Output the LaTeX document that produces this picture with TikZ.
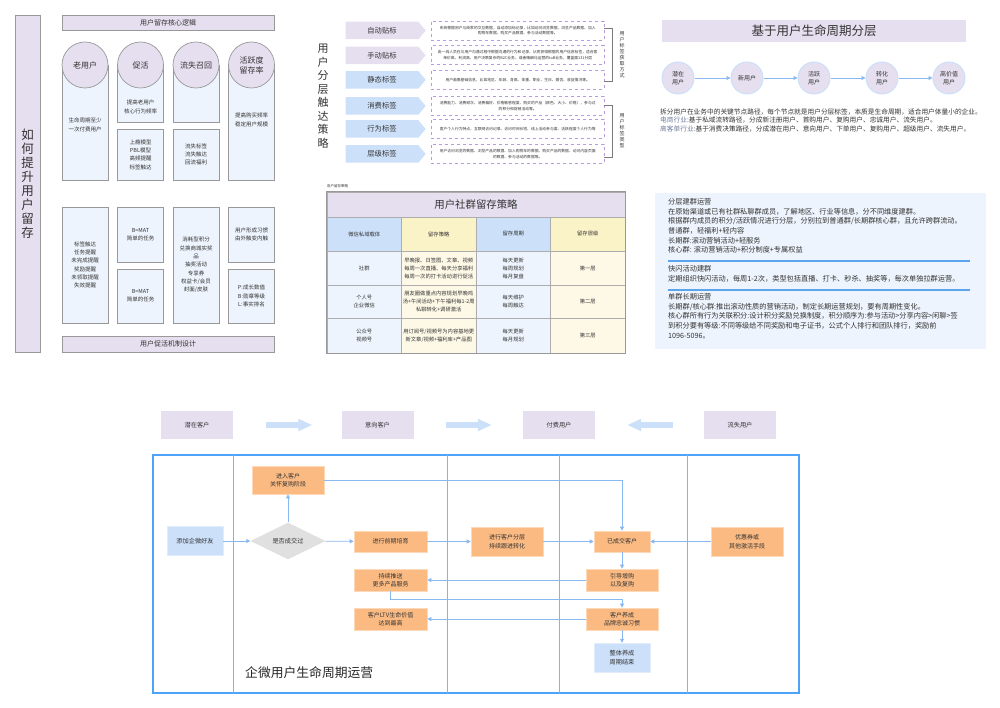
\documentclass[tikz,border=0pt]{standalone}
\usepackage{fontspec}
\setmainfont{Noto Sans CJK SC}
\usetikzlibrary{positioning,shapes.geometric,shapes.symbols,arrows.meta}

\definecolor{lilac}{HTML}{E5DFEF}
\definecolor{paleblue}{HTML}{EEF4FD}
\definecolor{skyblue}{HTML}{CCE0FA}
\definecolor{peach}{HTML}{FBBA82}
\definecolor{cream}{HTML}{FEF9E7}
\definecolor{butter}{HTML}{FBF3C8}
\definecolor{rim}{HTML}{999999}
\definecolor{flow}{HTML}{8AB8F2}
\definecolor{lanecol}{HTML}{7DB5F3}
\definecolor{framecol}{HTML}{4DA3F7}
\definecolor{dashcol}{HTML}{B79BDD}
\definecolor{ink}{HTML}{333333}
\definecolor{sepcol}{HTML}{5AA5EE}
\definecolor{prefix}{HTML}{6F7C9C}

\newcommand\fsize[2]{\fontsize{#1}{#2}\selectfont}

\tikzset{
  every node/.style={text=ink, inner sep=0pt, align=center},
  lilacbar/.style={draw=rim, fill=lilac, line width=0.7pt},
  column/.style={draw=rim, fill=paleblue, line width=0.7pt, minimum width=46pt, font=\fsize{5.5}{8.3}},
  topic/.style={circle, draw=rim, fill=lilac, line width=0.7pt, minimum size=46pt, font=\fsize{8}{10}},
  tagarrow/.style={signal, signal to=east, signal pointer angle=100, minimum width=80pt, minimum height=17.5pt, font=\fsize{7.3}{9}},
  tagnote/.style={draw=dashcol, dashed, line width=0.6pt, minimum width=173pt, minimum height=19pt, font=\fsize{3.8}{5.6}},
  cell/.style={draw=rim!80, line width=0.5pt, minimum width=74.5pt, font=\fsize{5.3}{8}},
  stage/.style={circle, draw=skyblue, fill=lilac, line width=1pt, minimum size=32pt, font=\fsize{6}{8}},
  phase/.style={fill=lilac, minimum width=72pt, minimum height=28pt, font=\fsize{6.2}{8}},
  taskbox/.style={draw=peach!55!white, fill=peach, line width=0.6pt, minimum width=73pt, minimum height=22pt, font=\fsize{6}{8.5}},
  startbox/.style={draw=skyblue!60!white, fill=skyblue, minimum width=56pt, minimum height=29pt, font=\fsize{6.2}{8.5}},
  decision/.style={diamond, fill=black!12, minimum width=75pt, minimum height=30pt, font=\fsize{6.2}{8}},
  link/.style={draw=flow, line width=0.8pt, -{Triangle[length=4pt,width=4pt]}},
  bigarrow/.style={draw=skyblue, line width=6.7pt, -{Triangle[length=14pt,width=11.5pt]}},
}

\begin{document}
\begin{tikzpicture}[x=1pt,y=-1pt]
\useasboundingbox (0,0) rectangle (1000,708);

% left panel
\node[lilacbar, minimum width=25pt, minimum height=337pt, font=\fsize{12.5}{14}] (howto) at (27.5,183.5) {如\\何\\提\\升\\用\\户\\留\\存};
\node[lilacbar, minimum width=212pt, minimum height=15pt, font=\fsize{7}{8}] (logic) at (168,22.5) {用户留存核心逻辑};
\node[column, minimum height=115pt, anchor=north] (oldcol) at (85,65) {};
\node[column, minimum height=57pt, anchor=north] (activecol) at (140.5,65) {};
\node[column, minimum height=57pt, anchor=north] (churncol) at (196,65) {};
\node[column, minimum height=115pt, anchor=north] (ratecol) at (251.5,65) {};
\node[topic] (old) at (85,65) {老用户};
\node[topic] (active) at (140.5,65) {促活};
\node[topic] (churn) at (196,65) {流失召回};
\node[topic] (rate) at (251.5,65) {活跃度\\留存率};
\node[font=\fsize{5.5}{8.3}] (oldtext) at (85,125) {生命周期至少\\一次付费用户};
\node[font=\fsize{5.5}{8.3}] (activetext) at (140.5,107) {提高老用户\\核心行为频率};
\node[font=\fsize{5.5}{8.3}] (ratetext) at (251.5,120) {提高购买频率\\稳定用户规模};
\node[column, minimum height=51pt] (hook) at (140.5,154.5) {上瘾模型\\PBL模型\\高频提醒\\标签触达};
\node[column, minimum height=51pt] (recall) at (196,154.5) {流失标签\\流失触达\\回流福利};

\node[column, minimum height=116pt] (remind) at (85,265) {标签触达\\任务提醒\\未完成提醒\\奖励提醒\\未领取提醒\\失效提醒};
\node[column, minimum height=55pt] (taskA) at (140.5,234.5) {B=MAT\\简单的任务};
\node[column, minimum height=54pt] (taskB) at (140.5,296) {B=MAT\\简单的任务};
\node[column, minimum height=116pt] (points) at (196,265) {消耗型积分\\兑换商城实奖\\品\\抽奖活动\\专享券\\权益卡/会员\\封面/皮肤};
\node[column, minimum height=55pt] (habitual) at (251.5,234.5) {用户形成习惯\\由外触变内触};
\node[column, minimum height=54pt] (pbl) at (251.5,296) {P:成长数值\\B:勋章等级\\L:事实排名};
\node[lilacbar, minimum width=212pt, minimum height=16pt, font=\fsize{7}{8}] (mechanism) at (168,344) {用户促活机制设计};

% middle: tags
\node[font=\fsize{11}{13.5}] (reach) at (323,96) {用\\户\\分\\层\\触\\达\\策\\略};
\foreach \y/\t/\c [count=\i] in {30.5/自动贴标/lilac, 55.3/手动贴标/lilac, 79.8/静态标签/skyblue, 106/消费标签/skyblue, 129/行为标签/skyblue, 154/层级标签/skyblue}
  \node[tagarrow, fill=\c] (tag\i) at (382,\y) {\t};
\node[tagnote, right=5pt of tag1] (note1) {系统根据用户与商家的交互数据，自动添加标记录，比如访问浏览数据、浏览产品数据、加入\\购物车数据、购买产品数据、参与活动数据等。};
\node[tagnote, right=5pt of tag2] (note2) {由一线人员在与用户沟通过程中根据沟通的行为和记录，从而获得根据的用户信息标签，适合客\\单价高、利润高、用户决策复杂的B2C业务，或者精细化运营的toB业务，覆盖面131分层};
\node[tagnote, right=5pt of tag3] (note3) {用户画像基础信息，比如地区、年龄、身高、体重、职业、生日、婚否、收益情况等。};
\node[tagnote, right=5pt of tag4] (note4) {消费能力、消费频次、消费偏好、价格敏感程度、购买的产品（颜色、大小、价格），参与过\\的积分和促销活动等。};
\node[tagnote, right=5pt of tag5] (note5) {客户个人行为特点，互联网访问记录、访问时间长短、线上活动参与度、活跃程度个人行为等};
\node[tagnote, right=5pt of tag6] (note6) {用户访问浏览的数据、浏览产品的数据、加入购物车的数据、购买产品的数据、访问内容页面\\的数据、参与活动的数据等。};
\draw[rim!80!black, line width=0.8pt] (604,28) -- (612,28) -- (612,81) -- (604,81);
\draw[rim!80!black, line width=0.8pt] (604,105) -- (612,105) -- (612,157) -- (604,157);
\node[font=\fsize{5}{6}] (getway) at (622,54.5) {用\\户\\标\\签\\获\\取\\方\\式};
\node[font=\fsize{5}{6}] (tagkind) at (622,131) {用\\户\\标\\签\\类\\型};

% table
\node[anchor=west, font=\fsize{3.5}{4}] (tabcap) at (327,186) {用户留存策略};
\node[cell, fill=lilac, minimum width=298pt, minimum height=25pt, font=\fsize{10.4}{12}] (tabtitle) at (476,204.5) {用户社群留存策略};
\foreach \t/\c [count=\i] in {微信私域载体/skyblue, 留存策略/butter, 留存周期/skyblue, 留存层级/butter}
  \node[cell, fill=\c, minimum height=34pt] (head\i) at ({327+74.5*(\i-0.5)},234) {\t};
\node[cell, fill=paleblue, minimum height=34pt] (r1c1) at (364.25,268) {社群};
\node[cell, fill=cream, minimum height=34pt] (r1c2) at (438.75,268) {早晚报、日签图、文章、视频\\每周一次直播、每天分享福利\\每周一次的打卡活动进行促活};
\node[cell, fill=paleblue, minimum height=34pt] (r1c3) at (513.25,268) {每天更新\\每周规划\\每月复盘};
\node[cell, fill=cream, minimum height=34pt] (r1c4) at (587.75,268) {第一层};
\node[cell, fill=paleblue, minimum height=33pt] (r2c1) at (364.25,301.5) {个人号\\企业微信};
\node[cell, fill=cream, minimum height=33pt] (r2c2) at (438.75,301.5) {朋友圈做重点内容规划早晚鸡\\汤+午间活动+下午福利每1-2周\\私聊转化+调研激活};
\node[cell, fill=paleblue, minimum height=33pt] (r2c3) at (513.25,301.5) {每天维护\\每周触达};
\node[cell, fill=cream, minimum height=33pt] (r2c4) at (587.75,301.5) {第二层};
\node[cell, fill=paleblue, minimum height=35pt] (r3c1) at (364.25,335.5) {公众号\\视频号};
\node[cell, fill=cream, minimum height=35pt] (r3c2) at (438.75,335.5) {用订阅号/视频号为内容基地更\\新文章/视频+福利库+产品图};
\node[cell, fill=paleblue, minimum height=35pt] (r3c3) at (513.25,335.5) {每天更新\\每月规划};
\node[cell, fill=cream, minimum height=35pt] (r3c4) at (587.75,335.5) {第三层};
\draw[rim, line width=1pt] (tabtitle.north west) rectangle (r3c4.south east);

% top right: life cycle
\node[fill=lilac, minimum width=304pt, minimum height=22pt, font=\fsize{12.5}{14}] (lifetitle) at (814,31) {基于用户生命周期分层};
\foreach \x/\t [count=\i] in {678/潜在\\用户, 747/新用户, 814/活跃\\用户, 882/转化\\用户, 949/高价值\\用户}
  \node[stage] (stage\i) at (\x,78) {\t};
\foreach \i/\j in {1/2, 2/3, 3/4, 4/5}
  \draw[link] (stage\i) -- (stage\j);
\node[anchor=north west, align=left, font=\fsize{6.7}{8.4}] (lifetext) at (660,108.5) {拆分用户在业务中的关键节点路径，每个节点就是用户分层标签，本质是生命周期，适合用户体量小的企业。\\{\color{prefix}电商行业}:基于私域流转路径，分成新注册用户、首购用户、复购用户、忠诚用户、流失用户。\\{\color{prefix}高客单行业}:基于消费决策路径，分成潜在用户、意向用户、下单用户、复购用户、超级用户、流失用户。};

% right: community ops
\node[fill=paleblue, minimum width=331pt, minimum height=156pt, anchor=north west] (opsbox) at (655,193) {};
\node[anchor=north west, align=left, font=\fsize{7.2}{9.6}] (ops1) at (668,198.5) {分层建群运营\\在原始渠道或已有社群私聊群成员，了解地区、行业等信息，分不同维度建群。\\根据群内成员的积分/活跃情况进行分层，分别拉到普通群/长期群核心群，且允许跨群流动。\\普通群，轻福利+轻内容\\长期群:滚动营销活动+轻服务\\核心群: 滚动营销活动+积分制度+专属权益};
\draw[sepcol, line width=1.5pt] (668,261) -- (970,261);
\node[anchor=north west, align=left, font=\fsize{7.2}{9.6}] (ops2) at (668,265.5) {快闪活动建群\\定期组织快闪活动，每周1-2次，类型包括直播、打卡、秒杀、抽奖等，每次单独拉群运营。};
\draw[sepcol, line width=1.5pt] (668,290) -- (970,290);
\node[anchor=north west, align=left, font=\fsize{7.2}{9.6}] (ops3) at (668,293.5) {单群长期运营\\长期群/核心群:推出滚动性质的营销活动，制定长期运营规划，要有周期性变化。\\核心群所有行为关联积分:设计积分奖励兑换制度，积分顺序为:参与活动>分享内容>闲聊>签\\到积分要有等级:不同等级给不同奖励和电子证书，公式个人排行和团队排行，奖励前\\1096-5096。};

% bottom: wecom life cycle
\node[phase] (latent) at (197,425) {潜在客户};
\node[phase] (intent) at (377.5,425) {意向客户};
\node[phase] (paying) at (559,425) {付费用户};
\node[phase] (lost) at (740,425) {流失用户};
\draw[bigarrow, shorten <=33pt, shorten >=29pt] (latent) -- (intent);
\draw[bigarrow, shorten <=32pt, shorten >=31pt] (intent) -- (paying);
\draw[bigarrow, shorten <=31pt, shorten >=32pt] (lost) -- (paying);

\draw[framecol, line width=1.3pt] (153,455) rectangle (799,693);
\foreach \x in {233,447,559,687}
  \draw[lanecol, line width=0.8pt] (\x,455) -- (\x,693);

\node[startbox] (addfriend) at (195,541) {添加企微好友};
\node[decision] (ask) at (288,541) {是否成交过};
\node[taskbox, minimum width=72pt, minimum height=28pt] (revisit) at (288,480) {进入客户\\关怀复购阶段};
\node[taskbox, minimum height=21pt] (nurture) at (390.5,541.5) {进行前期培育};
\node[taskbox, minimum width=72pt, minimum height=29pt] (layering) at (507,541.5) {进行客户分层\\持续跟进转化};
\node[taskbox, minimum width=56pt, minimum height=21pt] (deal) at (622,541.5) {已成交客户};
\node[taskbox, minimum width=72pt, minimum height=29pt] (coupon) at (747,541.5) {优惠券或\\其他激活手段};
\node[taskbox, minimum width=72pt] (upsell) at (622,580) {引导增购\\以及复购};
\node[taskbox, minimum width=72pt] (habit) at (622,619) {客户养成\\品牌忠诚习惯};
\node[startbox] (finish) at (622,657.5) {整体养成\\周期结束};
\node[taskbox] (push) at (390.5,580) {持续推送\\更多产品服务};
\node[taskbox] (ltv) at (390.5,619) {客户LTV生命价值\\达到最高};
\node[anchor=west, font=\fsize{12.8}{14}, text=black!85] (lifecaption) at (245,673) {企微用户生命周期运营};

\draw[link] (addfriend) -- (ask);
\draw[link] (ask) -- (nurture);
\draw[link] (ask) -- (revisit);
\draw[link] (revisit) -| (deal);
\draw[link] (nurture) -- (layering);
\draw[link] (layering) -- (deal);
\draw[link] (coupon) -- (deal);
\draw[link] (deal) -- (upsell);
\draw[link] (upsell) -- (push);
\draw[link] (push.south) -- ++(0,8) -| (habit);
\draw[link] (habit) -- (ltv);
\draw[link] (habit) -- (finish);
\end{tikzpicture}
\end{document}
